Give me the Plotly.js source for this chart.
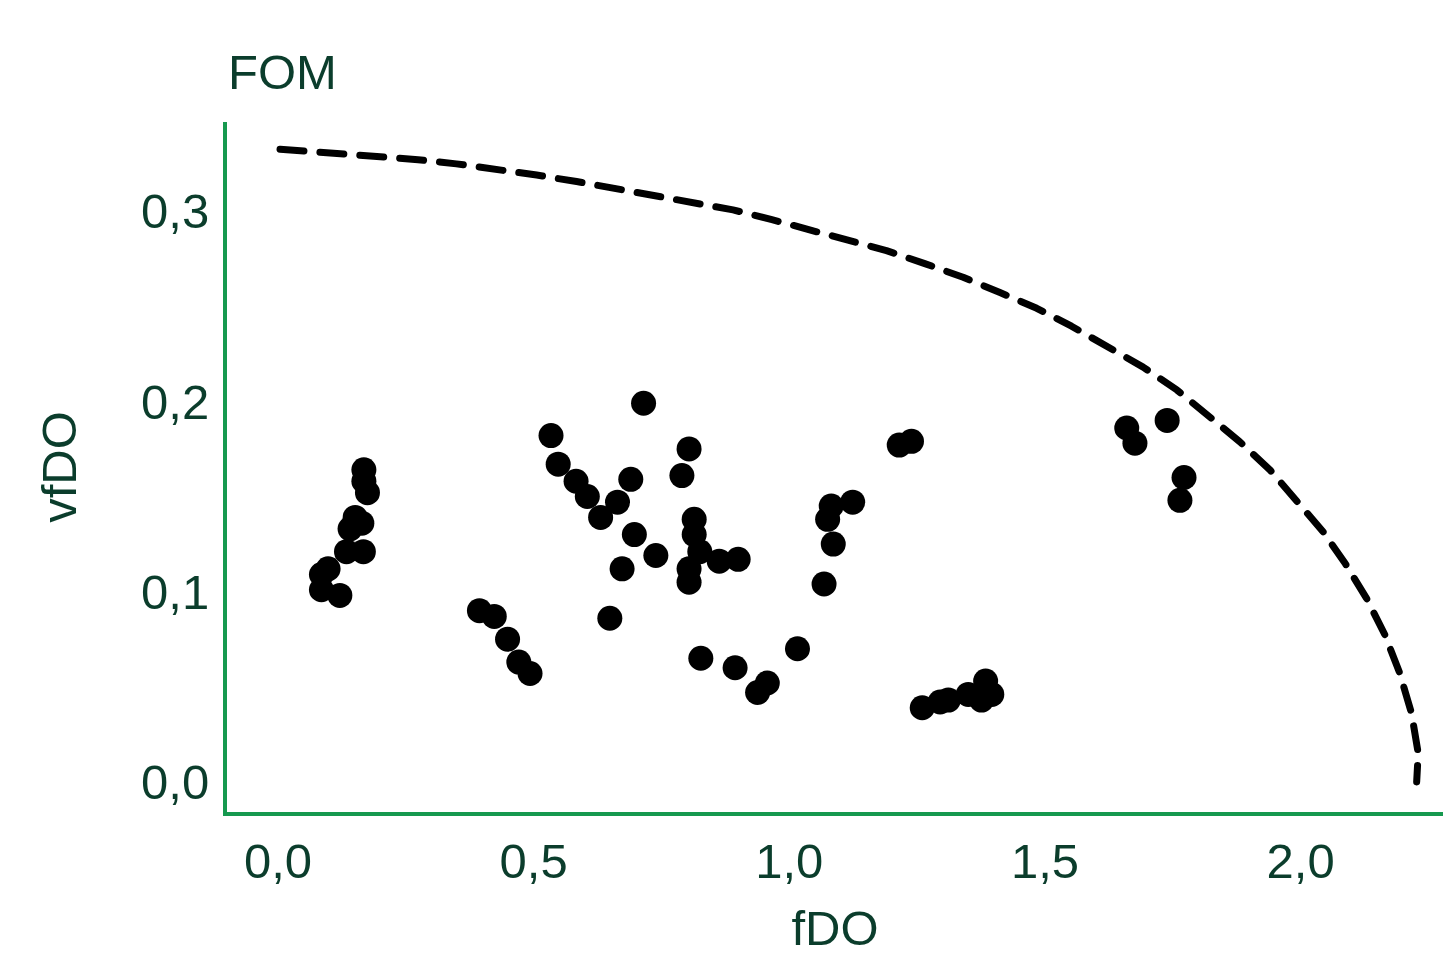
<!DOCTYPE html>
<html>
<head>
<meta charset="utf-8">
<script src="https://cdn.plot.ly/plotly-3.0.1.min.js"></script>
<style>
  html, body { margin: 0; padding: 0; background: #ffffff; }
  #chart { width: 1443px; height: 955px; }
  .scatterlayer .js-line { stroke-linecap: round !important; stroke-linejoin: round !important; }
</style>
</head>
<body>
<div id="chart"></div>
<script>
// Observed points (fDO, vfDO)
const fDO = [
  0.168, 0.168, 0.175, 0.151, 0.164, 0.141, 0.167, 0.134, 0.098, 0.085, 0.085, 0.121,
  0.715, 0.534, 0.548, 0.583, 0.605, 0.631, 0.690, 0.664, 0.697, 0.739, 0.673, 0.649,
  0.394, 0.423, 0.449, 0.471, 0.493,
  0.804, 0.790, 0.814, 0.814, 0.825, 0.804, 0.804, 0.863, 0.900,
  1.082, 1.124, 1.075, 1.086, 1.068,
  1.016, 0.827, 0.894, 0.957, 0.938,
  1.215, 1.239,
  1.260, 1.295, 1.311, 1.350, 1.384, 1.396, 1.376,
  1.660, 1.676, 1.739, 1.772, 1.764
];
const vfDO = [
  0.164, 0.158, 0.152, 0.139, 0.136, 0.133, 0.121, 0.121, 0.112, 0.109, 0.101, 0.098,
  0.199, 0.182, 0.167, 0.158, 0.150, 0.139, 0.159, 0.147, 0.130, 0.119, 0.112, 0.086,
  0.090, 0.087, 0.075, 0.063, 0.057,
  0.175, 0.161, 0.138, 0.130, 0.121, 0.112, 0.105, 0.116, 0.117,
  0.145, 0.147, 0.138, 0.125, 0.104,
  0.070, 0.065, 0.060, 0.052, 0.047,
  0.177, 0.179,
  0.039, 0.042, 0.043, 0.046, 0.053, 0.046, 0.043,
  0.186, 0.178, 0.190, 0.160, 0.148
];

// Dashed boundary curve
const curveX = [0.004, 0.118, 0.196, 0.274, 0.349, 0.428, 0.506, 0.584, 0.659, 0.733,
  0.812, 0.890, 0.966, 1.040, 1.115, 1.190, 1.265, 1.340, 1.412, 1.484, 1.552, 1.624,
  1.692, 1.758, 1.819, 1.881, 1.940, 1.992, 2.044, 2.087, 2.129, 2.165, 2.194, 2.217,
  2.230, 2.227];
const curveY = [0.3325, 0.3304, 0.3288, 0.3270, 0.3248, 0.3220, 0.3189, 0.3155, 0.3120, 0.3088,
  0.3049, 0.3006, 0.2955, 0.2902, 0.2850, 0.2792, 0.2724, 0.2652, 0.2572, 0.2489, 0.2395, 0.2289,
  0.2180, 0.2060, 0.1929, 0.1788, 0.1640, 0.1482, 0.1315, 0.1149, 0.0965, 0.0772, 0.0571, 0.0361,
  0.0151, 0.0000];

const titleText = "FOM";
const xTitle = "fDO";
const yTitle = "vfDO";

const textColor = "#0b3d2c";
const axisColor = "#16994f";
const font = "Liberation Sans, Arial, sans-serif";

const traces = [
  {
    x: curveX, y: curveY, type: "scatter", mode: "lines",
    line: { color: "#000000", width: 7, dash: "24px,16px", shape: "linear" },
    hoverinfo: "skip", showlegend: false
  },
  {
    x: fDO, y: vfDO, type: "scatter", mode: "markers",
    marker: { color: "#000000", size: 25 },
    showlegend: false
  }
];

const layout = {
  width: 1443, height: 955,
  margin: { l: 227, r: 0, t: 122, b: 143, pad: 0 },
  paper_bgcolor: "#ffffff", plot_bgcolor: "#ffffff",
  separators: ",.",
  font: { family: font, color: textColor, size: 49 },
  title: {
    text: titleText, xref: "container", yref: "container",
    x: 228 / 1443, xanchor: "left", y: 1 - 72 / 955, yanchor: "middle",
    font: { family: font, size: 49, color: textColor }
  },
  xaxis: {
    range: [-0.0997, 2.2785], tickmode: "linear", tick0: 0, dtick: 0.5, tickformat: ".1f",
    showgrid: false, zeroline: false, showline: true, linecolor: axisColor, linewidth: 4,
    ticks: "", ticklabelstandoff: 3,
    tickfont: { family: font, size: 49, color: textColor },
    title: { text: xTitle, standoff: 36, font: { family: font, size: 49, color: textColor } }
  },
  yaxis: {
    range: [-0.0158, 0.3468], tickmode: "linear", tick0: 0, dtick: 0.1, tickformat: ".1f",
    showgrid: false, zeroline: false, showline: true, linecolor: axisColor, linewidth: 4,
    ticks: "", ticklabelstandoff: 4,
    tickfont: { family: font, size: 49, color: textColor },
    title: { text: yTitle, standoff: 50, font: { family: font, size: 49, color: textColor } }
  }
};

Plotly.newPlot("chart", traces, layout, { displayModeBar: false, staticPlot: true });
</script>
</body>
</html>
